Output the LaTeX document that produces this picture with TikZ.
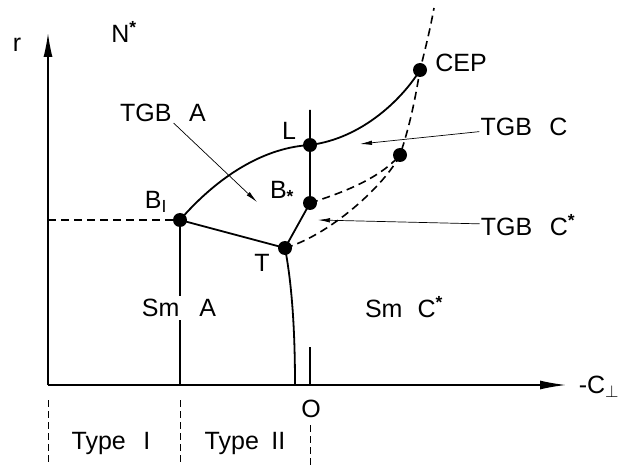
\documentclass[tikz,border=0pt]{standalone}
\usepackage{fontspec}
\setmainfont{Liberation Sans}
\usetikzlibrary{arrows.meta}
\newcommand{\etoile}{\textsuperscript{\textbf{*}}}
\begin{document}
\begin{tikzpicture}[x=1pt,y=-1pt,
    point/.style={circle,fill,inner sep=0pt,minimum size=14pt},
    etiq/.style={font=\fontsize{25}{28}\selectfont,inner sep=1pt},
    fleche/.style={line width=0.7pt,-{Latex[length=12pt,width=4.5pt]}},
    tirets/.style={line width=1.6pt,dash pattern=on 8pt off 5pt},
    courbe/.style={line width=1.8pt}]
    \useasboundingbox (0,0) rectangle (627,465);

    % Axes
    \draw[line width=1.4pt,-{Latex[length=24pt,width=9pt]}] (48,385) -- (48,33);
    \draw[line width=1.4pt,-{Latex[length=26pt,width=9pt]}] (48,385) -- (566,385);
    \node[etiq] (r) at (17,45) {r};
    \node[etiq] (Nstar) at (124,32) {N\etoile};
    \node[etiq] (Cperp) at (599,387) {-C$_{\perp}$};

    % Points
    \node[point] (B1) at (180,220) {};
    \node[point] (L) at (310,145) {};
    \node[point] (Bs) at (310,203) {};
    \node[point] (T) at (285,248) {};
    \node[point] (CEP) at (420,70) {};
    \node[point] (P) at (400,155) {};
    \coordinate (Lhaut) at (310,110);
    \coordinate (Tbas) at (295,385);
    \coordinate (B1bas) at (180,385);
    \coordinate (B1gauche) at (48,220);
    \coordinate (haut) at (434,8);

    % Lignes de transition
    \draw[courbe] (B1.center) .. controls (212,183) and (258,148) .. (L.center);
    \draw[courbe] (L.center) .. controls (365,138) and (405,95) .. (CEP.center);
    \draw[courbe] (Lhaut) -- (L.center) -- (Bs.center) -- (T.center);
    \draw[courbe] (B1.center) -- (T.center);
    \draw[courbe] (T.center) .. controls (293,290) and (295,340) .. (Tbas);
    \draw[line width=1.1pt] (B1.center) -- (B1bas);
    \draw[tirets] (B1gauche) -- (B1.center);
    \draw[tirets] (T.center) .. controls (330,235) and (385,185) .. (P.center)
        .. controls (410,125) and (415,100) .. (CEP.center)
        .. controls (425,50) and (430,30) .. (haut);
    \draw[tirets] (Bs.center) .. controls (345,192) and (380,178) .. (P.center);

    % Origine et types
    \coordinate (Ohaut) at (310,347);
    \coordinate (Obas) at (310,385);
    \draw[line width=1.1pt] (Obas) -- (Ohaut);
    \node[etiq] (O) at (311,409) {O};
    \foreach \x/\y in {48/400,180/400,310/425}
        \draw[line width=1pt,dash pattern=on 7pt off 4pt] (\x,\y) -- (\x,465);
    \node[etiq] (type1) at (111,443) {Type\hspace{0.7em}I};
    \node[etiq] (type2) at (245,443) {Type\hspace{0.5em}II};

    % Etiquettes des points
    \node[etiq] at (156,202) {B$_{\mathrm{I}}$};
    \node[etiq] at (289,131) {L};
    \node[etiq] at (282,192) {B\textsubscript{\textbf{*}}};
    \node[etiq] at (262,263) {T};
    \node[etiq] at (461,63) {CEP};

    % Phases
    \node[etiq,fill=white,inner sep=3pt] (SmA) at (179,308) {Sm\hspace{0.8em}A};
    \node[etiq] (SmC) at (404,307) {Sm\hspace{0.6em}C\etoile};
    \node[etiq] (tgbA) at (163,113) {TGB\hspace{0.7em}A};
    \node[etiq] (tgbC) at (524,127) {TGB\hspace{0.7em}C};
    \node[etiq] (tgbCs) at (528,225) {TGB\hspace{0.7em}C\etoile};

    % Fleches
    \coordinate (flecheA) at (257,202);
    \coordinate (flecheC) at (360,144);
    \coordinate (flecheCs) at (318,220);
    \draw[fleche] (tgbA) -- (flecheA);
    \draw[fleche] (tgbC) -- (flecheC);
    \draw[fleche] (tgbCs) -- (flecheCs);
\end{tikzpicture}
\end{document}
